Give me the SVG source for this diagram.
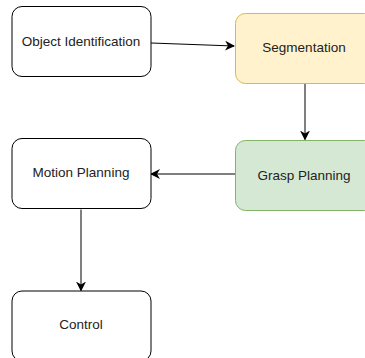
<svg xmlns="http://www.w3.org/2000/svg" width="365" height="358" viewBox="0 0 365 358">
  <defs>
    <marker id="arrow" viewBox="0 0 10 10" refX="9" refY="5" markerWidth="10" markerHeight="10" markerUnits="userSpaceOnUse" orient="auto">
      <path d="M0,0 L10,5 L0,10 L3,5 Z" fill="#000"/>
    </marker>
    <style>
      .box { stroke-width: 1; }
      .plain { fill: #ffffff; stroke: #000000; }
      .yellow { fill: #fff2cc; stroke: #d6b656; }
      .green { fill: #d5e8d4; stroke: #82b366; }
      .label { font-family: "Liberation Sans", Arial, sans-serif; font-size: 13.5px; fill: #222; text-anchor: middle; dominant-baseline: central; }
      .edge { fill: none; stroke: #000; stroke-width: 1; marker-end: url(#arrow); }
    </style>
  </defs>
  <rect width="365" height="358" fill="#ffffff"/>

  <g id="connectors">
    <path class="edge" d="M151,43 L234,46"/>
    <path class="edge" d="M305,83.5 L305,139.5"/>
    <path class="edge" d="M235,174 L151,174"/>
    <path class="edge" d="M81,209.5 L81,290.5"/>
  </g>

  <g id="object-identification">
    <rect class="box plain" x="12" y="6.5" width="139" height="70" rx="10"/>
    <text class="label" x="81" y="41.5">Object Identification</text>
  </g>

  <g id="segmentation">
    <rect class="box yellow" x="235.5" y="13.5" width="139" height="70" rx="10"/>
    <text class="label" x="304" y="47.5">Segmentation</text>
  </g>

  <g id="grasp-planning">
    <rect class="box green" x="235.5" y="140.5" width="139" height="70" rx="10"/>
    <text class="label" x="304" y="175">Grasp Planning</text>
  </g>

  <g id="motion-planning">
    <rect class="box plain" x="12" y="138.5" width="139" height="70" rx="10"/>
    <text class="label" x="81" y="172.5">Motion Planning</text>
  </g>

  <g id="control">
    <rect class="box plain" x="12" y="291" width="139" height="70" rx="10"/>
    <text class="label" x="81" y="324.5">Control</text>
  </g>
</svg>
